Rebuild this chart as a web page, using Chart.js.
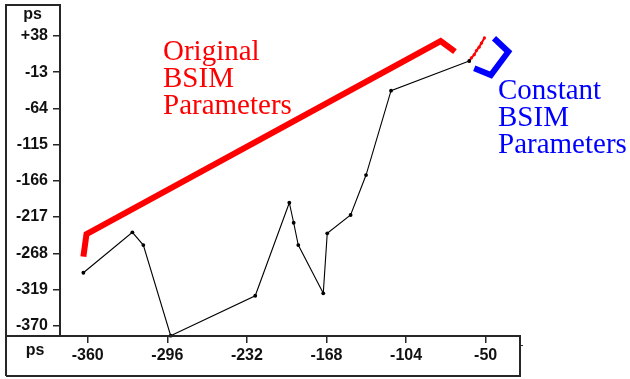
<!DOCTYPE html>
<html>
<head>
<meta charset="utf-8">
<script src="https://cdn.jsdelivr.net/npm/chart.js@4/dist/chart.umd.min.js"></script>
<style>
  html, body { margin: 0; padding: 0; background: #fff; }
  canvas { display: block; }
</style>
</head>
<body>
<canvas id="c" width="630" height="379"></canvas>
<script>
// Axis ticks (positions in ps and the text printed under/next to them)
const xTickValues = [-360, -296, -232, -168, -104, -40];
const xTickLabels = ['-360', '-296', '-232', '-168', '-104', '-50'];
const yTickValues = [38, -13, -64, -115, -166, -217, -268, -319, -370];
const yTickLabels = ['+38', '-13', '-64', '-115', '-166', '-217', '-268', '-319', '-370'];

// Measured delay path (black trace with markers)
const measuredX = [-363.5, -324.1, -315.3, -293.3, -225.3, -197.9, -194.4, -190.7, -170.6, -167.4, -148.6, -136.2, -116.1, -53.2];
const measuredY = [-295.4, -238.5, -256.4, -384.1, -327.8, -196.8, -225.0, -256.4, -324.4, -239.9, -214.1, -157.8, -39.0, 2.8];

// Original BSIM parameters trajectory (thick red)
const originalX = [-363.5, -361.0, -76.2, -64.7];
const originalY = [-272.8, -240.9, 31.0, 15.9];

// Fine red steps near the end of the measured path
const tailX = [-53.2, -51.5, -49.2, -47.4, -45.3, -43.4, -41.0];
const tailY = [2.8, 7.2, 11.8, 17.6, 22.3, 28.0, 35.3];

// Constant BSIM parameters bracket (thick blue)
const constantX = [-33.3, -21.8, -35.8, -49.2];
const constantY = [34.8, 15.9, -16.9, -7.5];

// Callout texts
const originalText = ['Original', 'BSIM', 'Parameters'];
const constantText = ['Constant', 'BSIM', 'Parameters'];
const axisUnit = 'ps';

const toPoints = (xs, ys) => xs.map((x, i) => ({ x: x, y: ys[i] }));

const frameColor = '#262626';
const tickFont = { family: '"Liberation Sans", Arial, sans-serif', size: 16, weight: 'bold' };

const framePlugin = {
  id: 'frames',
  afterDraw(chart) {
    const ctx = chart.ctx;
    const a = chart.chartArea;
    const outerLeft = 6, outerTop = 5, outerBottom = 376;
    ctx.save();
    ctx.strokeStyle = frameColor;
    ctx.lineWidth = 2;
    ctx.beginPath();
    // vertical-axis box
    ctx.moveTo(outerLeft, outerBottom);
    ctx.lineTo(outerLeft, outerTop);
    ctx.lineTo(a.left, outerTop);
    ctx.lineTo(a.left, a.bottom);
    // horizontal-axis box
    ctx.moveTo(outerLeft, a.bottom);
    ctx.lineTo(a.right, a.bottom);
    ctx.lineTo(a.right, outerBottom);
    ctx.lineTo(outerLeft, outerBottom);
    ctx.stroke();
    ctx.lineWidth = 1;
    ctx.beginPath();
    ctx.moveTo(a.right, a.bottom + 9.5);
    ctx.lineTo(a.right + 3, a.bottom + 9.5);
    ctx.stroke();

    // unit labels
    ctx.fillStyle = '#111';
    ctx.font = 'bold 16px "Liberation Sans", Arial, sans-serif';
    ctx.textAlign = 'center';
    ctx.textBaseline = 'alphabetic';
    ctx.fillText(axisUnit, 32.5, 18.5);
    ctx.fillText(axisUnit, 35, 355);

    // callouts
    ctx.textAlign = 'left';
    ctx.font = '29px "Liberation Serif", "Times New Roman", serif';
    ctx.fillStyle = '#ff0000';
    const redBase = [60, 87, 113.5];
    originalText.forEach((t, i) => ctx.fillText(t, 163, redBase[i]));
    ctx.fillStyle = '#0000ff';
    const blueBase = [98.5, 125.5, 152.5];
    constantText.forEach((t, i) => ctx.fillText(t, 498, blueBase[i]));
    ctx.restore();
  }
};

new Chart(document.getElementById('c'), {
  type: 'scatter',
  data: {
    datasets: [
      {
        data: toPoints(originalX, originalY),
        showLine: true,
        borderColor: '#ff0000',
        borderWidth: 6,
        borderCapStyle: 'butt',
        borderJoinStyle: 'miter',
        pointRadius: 0,
        fill: false
      },
      {
        data: toPoints(constantX, constantY),
        showLine: true,
        borderColor: '#0000ff',
        borderWidth: 6,
        borderCapStyle: 'butt',
        borderJoinStyle: 'miter',
        pointRadius: 0,
        fill: false
      },
      {
        data: toPoints(measuredX, measuredY),
        showLine: true,
        borderColor: '#000000',
        borderWidth: 1.1,
        pointRadius: 1.9,
        pointBackgroundColor: '#000000',
        pointBorderColor: '#000000',
        pointBorderWidth: 0,
        fill: false
      },
      {
        data: toPoints(tailX, tailY),
        showLine: true,
        borderColor: '#ff0000',
        borderWidth: 2,
        pointRadius: 1.6,
        pointBackgroundColor: '#ff0000',
        pointBorderColor: '#ff0000',
        pointBorderWidth: 0,
        fill: false
      }
    ]
  },
  options: {
    responsive: false,
    animation: false,
    events: [],
    clip: false,
    layout: { padding: { left: 6, top: 5, right: 110, bottom: 3 } },
    plugins: { legend: { display: false }, tooltip: { enabled: false } },
    scales: {
      x: {
        type: 'linear',
        min: -382.3,
        max: -12.4,
        afterBuildTicks: (scale) => { scale.ticks = xTickValues.map(v => ({ value: v })); },
        afterFit: (scale) => {
          scale.height = 40;
          scale.paddingLeft = 0;
          scale.paddingRight = 0;
        },
        ticks: {
          autoSkip: false,
          maxRotation: 0,
          padding: 3,
          color: '#111',
          font: tickFont,
          callback: (value, index) => xTickLabels[index]
        },
        grid: { drawOnChartArea: false, drawTicks: true, tickLength: 7, color: frameColor, lineWidth: 1.5 },
        border: { display: false }
      },
      y: {
        type: 'linear',
        min: -384.5,
        max: 81.7,
        afterBuildTicks: (scale) => { scale.ticks = yTickValues.map(v => ({ value: v })); },
        afterFit: (scale) => {
          scale.width = 54;
          scale.paddingTop = 0;
          scale.paddingBottom = 0;
        },
        ticks: {
          autoSkip: false,
          padding: 5,
          color: '#111',
          font: tickFont,
          callback: (value, index) => yTickLabels[index]
        },
        grid: { drawOnChartArea: false, drawTicks: true, tickLength: 7, color: frameColor, lineWidth: 1.5 },
        border: { display: false }
      }
    }
  },
  plugins: [framePlugin]
});
</script>
</body>
</html>
